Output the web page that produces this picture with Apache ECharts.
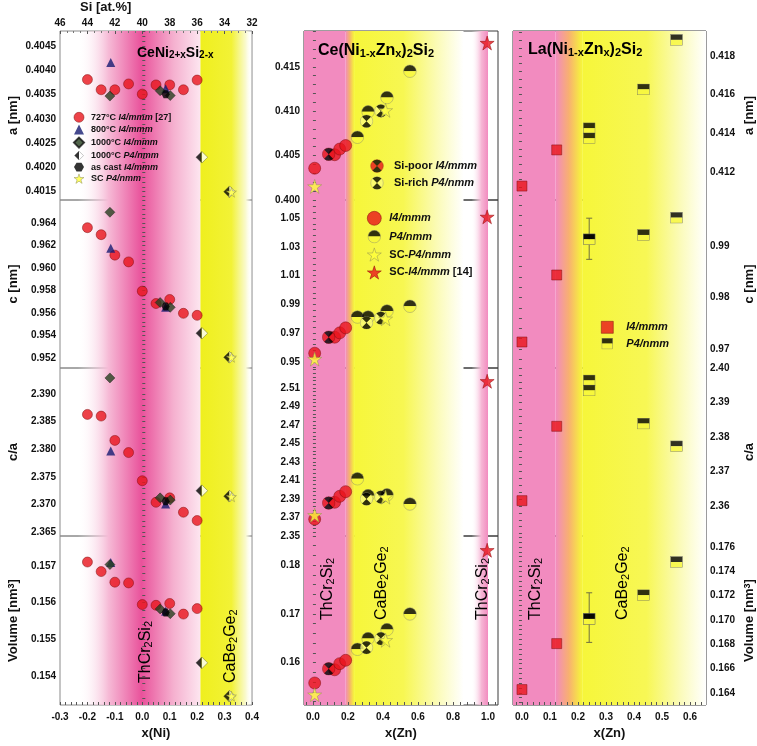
<!DOCTYPE html>
<html>
<head>
<meta charset="utf-8">
<script src="https://cdn.jsdelivr.net/npm/echarts@6/dist/echarts.min.js"></script>
<style>
  html, body { margin: 0; padding: 0; background: #fff; }
  #chart { width: 757px; height: 746px; }
</style>
</head>
<body>
<div id="chart"></div>
<script>
// ---------- CeNi(2+x)Si(2-x) : left column, rows a / c / c/a / V ----------
const ni727X  = [-0.2, -0.15, -0.1, -0.05, 0, 0.05, 0.1, 0.15, 0.2];
const ni727A  = [0.40381, 0.4036, 0.4036, 0.40372, 0.40351, 0.4037, 0.4037, 0.4036, 0.4038];
const ni727C  = [0.96358, 0.96296, 0.96114, 0.96054, 0.95794, 0.95684, 0.9572, 0.95597, 0.95579];
const ni727CA = [2.3863, 2.3860, 2.3816, 2.3794, 2.3743, 2.3704, 2.3712, 2.3686, 2.3671];
const ni727V  = [0.15711, 0.15685, 0.15656, 0.15654, 0.15595, 0.15593, 0.15598, 0.15569, 0.15584];

const ni800X  = [-0.115, 0.085];
const ni800A  = [0.40416, 0.40362];
const ni800C  = [0.96176, 0.9565];
const ni800CA = [2.3797, 2.3701];
const ni800V  = [0.1571, 0.15577];

const ni1000iX  = [-0.118, 0.065, 0.102];
const ni1000iA  = [0.40347, 0.40358, 0.40348];
const ni1000iC  = [0.96495, 0.95693, 0.9565];
const ni1000iCA = [2.3929, 2.3712, 2.3708];
const ni1000iV  = [0.15704, 0.15583, 0.1557];

const niCastX  = [0.085];
const niCastA  = [0.40351];
const niCastC  = [0.95658];
const niCastCA = [2.3706];
const niCastV  = [0.15573];

const ni1000pX  = [0.217, 0.318];
const ni1000pA  = [0.40221, 0.4015];
const ni1000pC  = [0.9542, 0.95206];
const ni1000pCA = [2.3725, 2.3715];
const ni1000pV  = [0.15436, 0.15345];

const niScX  = [0.325];
const niScA  = [0.40149];
const niScC  = [0.95206];
const niScCA = [2.3714];
const niScV  = [0.15345];

// ---------- Ce(Ni1-xZnx)2Si2 : middle column ----------
const ceI4X  = [0.01, 0.124, 0.153, 0.187];
const ceI4A  = [0.40358, 0.4051, 0.40574, 0.40614];
const ceI4C  = [0.95607, 0.9672, 0.9702, 0.9737];
const ceI4CA = [2.3682, 2.3864, 2.3929, 2.3979];
const ceI4V  = [0.15582, 0.15853, 0.15979, 0.16048];

const cePoorX  = [0.09];
const cePoorA  = [0.40516];
const cePoorC  = [0.9672];
const cePoorCA = [2.3857];
const cePoorV  = [0.15874];

const ceP4X  = [0.254, 0.315, 0.423, 0.554];
const ceP4A  = [0.40707, 0.40993, 0.41154, 0.41451];
const ceP4C  = [0.9812, 0.9812, 0.9854, 0.9887];
const ceP4CA = [2.4118, 2.3936, 2.3944, 2.3846];
const ceP4V  = [0.16274, 0.16493, 0.16678, 0.17];

const ceRichX  = [0.306, 0.388];
const ceRichA  = [0.40888, 0.41004];
const ceRichC  = [0.9772, 0.9805];
const ceRichCA = [2.390, 2.392];
const ceRichV  = [0.16308, 0.16493];

const ceScPX  = [0.01, 0.415];
const ceScPA  = [0.40153, 0.4101];
const ceScPC  = [0.952, 0.980];
const ceScPCA = [2.3725, 2.392];
const ceScPV  = [0.15342, 0.1646];

const ceScIX  = [0.995];
const ceScIA  = [0.41769];
const ceScIC  = [1.0508];
const ceScICA = [2.5172];
const ceScIV  = [0.18308];

// ---------- La(Ni1-xZnx)2Si2 : right column ----------
const laI4X  = [0.0, 0.124];
const laI4A  = [0.41127, 0.41314];
const laI4C  = [0.97136, 0.98437];
const laI4CA = [2.36155, 2.3831];
const laI4V  = [0.16427, 0.16805];

const laP4X  = [0.24, 0.24, 0.434, 0.552];
const laP4A  = [0.41426, 0.41374, 0.41627, 0.41883];
const laP4C  = [0.99129, 0.99129, 0.99214, 0.9955];
const laP4CA = [2.3964, 2.3935, 2.3839, 2.3773];
const laP4V  = [0.17008, 0.17008, 0.17203, 0.17476];

const laErrX = 0.24;
const laErrC = [0.98741, 0.9954];
const laErrV = [0.16815, 0.17223];

// ---------- axis ranges and tick labels ----------
const leftYMin = [0.40133, 0.95111, 2.3643, 0.15321];
const leftYMax = [0.40481, 0.96604, 2.3947, 0.15782];
const leftYTicks = [
  [0.4015, 0.4020, 0.4025, 0.4030, 0.4035, 0.4040, 0.4045],
  [0.952, 0.954, 0.956, 0.958, 0.960, 0.962, 0.964],
  [2.365, 2.370, 2.375, 2.380, 2.385, 2.390],
  [0.154, 0.155, 0.156, 0.157]
];
const midYMin = [0.400, 0.9458, 2.35, 0.1513];
const midYMax = [0.41904, 1.0625, 2.5315, 0.186];
const midYTicks = [
  [0.400, 0.405, 0.410, 0.415],
  [0.95, 0.97, 0.99, 1.01, 1.03, 1.05],
  [2.35, 2.37, 2.39, 2.41, 2.43, 2.45, 2.47, 2.49, 2.51],
  [0.16, 0.17, 0.18]
];
const rightYMin = [0.41055, 0.96631, 2.3513, 0.163];
const rightYMax = [0.41929, 0.99893, 2.40, 0.1769];
const rightYTicks = [
  [0.412, 0.414, 0.416, 0.418],
  [0.97, 0.98, 0.99],
  [2.36, 2.37, 2.38, 2.39, 2.40],
  [0.164, 0.166, 0.168, 0.170, 0.172, 0.174, 0.176]
];
const niXTicks = [-0.3, -0.2, -0.1, 0.0, 0.1, 0.2, 0.3, 0.4];
const znXTicks = [0.0, 0.2, 0.4, 0.6, 0.8, 1.0];
const laXTicks = [0.0, 0.1, 0.2, 0.3, 0.4, 0.5, 0.6];

const FONT = '"Liberation Sans", Arial, sans-serif';
const RED = '#e8141c';
const PINK = '#f28bbf';
const YEL = '#f6f63a';

const ROW_TOP = [31, 200, 368, 536];
const ROW_H = [169, 168, 168, 169];
const COLS = [
  { left: 60, width: 192, border: '#8a8a8a' },
  { left: 304, width: 194, border: '#3a3a3a' },
  { left: 513, width: 193, border: '#3a3a3a' }
];

function svgSym(svg) {
  return 'image://data:image/svg+xml;charset=utf-8,' + encodeURIComponent(svg);
}
const SVG_HEAD = "<svg xmlns='http://www.w3.org/2000/svg' width='40' height='40' viewBox='0 0 20 20'>";
const HALF_CIRCLE = svgSym(SVG_HEAD +
  "<path d='M1,10 A9,9 0 0 1 19,10 Z' fill='#000'/><path d='M1,10 A9,9 0 0 0 19,10 Z' fill='#f8f83c'/>" +
  "<circle cx='10' cy='10' r='9' fill='none' stroke='#777' stroke-width='0.7'/></svg>");
function hourglass(fill, stroke) {
  return svgSym(SVG_HEAD + "<circle cx='10' cy='10' r='9' fill='" + fill + "' stroke='" + stroke + "' stroke-width='0.7'/>" +
    "<path d='M10,10 L3.64,3.64 A9,9 0 0 1 16.36,3.64 Z M10,10 L16.36,16.36 A9,9 0 0 1 3.64,16.36 Z' fill='#000'/></svg>");
}
const SI_POOR = hourglass(RED, '#7a0a0a');
const SI_RICH = hourglass('#fbfb7a', '#888');
const HALF_SQUARE = svgSym(SVG_HEAD +
  "<rect x='1' y='1' width='18' height='9' fill='#000'/><rect x='1' y='10' width='18' height='9' fill='#f8f83c'/>" +
  "<rect x='1' y='1' width='18' height='18' fill='none' stroke='#666' stroke-width='0.8'/></svg>");
const HALF_DIAMOND = svgSym(SVG_HEAD +
  "<path d='M10,1 L1,10 L10,19 Z' fill='#000'/><path d='M10,1 L19,10 L10,19 Z' fill='#fff'/>" +
  "<path d='M10,1 L19,10 L10,19 L1,10 Z' fill='none' stroke='#333' stroke-width='0.7'/></svg>");
const STAR = 'path://M10,0 L12.36,7.26 L20,7.26 L13.82,11.74 L16.18,19 L10,14.5 L3.82,19 L6.18,11.74 L0,7.26 L7.64,7.26 Z';
const HEXAGON = 'path://M5,0 L15,0 L20,8.66 L15,17.32 L5,17.32 L0,8.66 Z';

function ticksOf(labels, sub, min, max) {
  const step = (labels[1] - labels[0]) / sub;
  let v = labels[0] - Math.floor((labels[0] - min) / step + 1e-9) * step;
  const out = [];
  for (; v <= max + 1e-12; v += step) out.push(+v.toFixed(8));
  return out;
}

const grids = [], xAxes = [], yAxes = [];
const yRanges = [[leftYMin, leftYMax, leftYTicks, [4, 3, 3, 3]],
                 [midYMin, midYMax, midYTicks, [3, 2, 2, 2]],
                 [rightYMin, rightYMax, rightYTicks, [3, 2, 2, 3]]];
const xRanges = [[-0.3, 0.4, niXTicks, 'x(Ni)'], [-0.051, 1.057, znXTicks, 'x(Zn)'], [-0.032, 0.657, laXTicks, 'x(Zn)']];
const yNames = ['a [nm]', 'c [nm]', 'c/a', 'Volume [nm{sup|3}]'];
const nameRich = {
  sup: { fontFamily: FONT, fontWeight: 'bold', fontSize: 9, lineHeight: 8, verticalAlign: 'top', color: '#000' }
};

COLS.forEach((col, c) => {
  for (let r = 0; r < 4; r++) {
    const idx = c * 4 + r;
    grids.push({ left: col.left, width: col.width, top: ROW_TOP[r], height: ROW_H[r],
      show: true, borderColor: col.border, borderWidth: 1, backgroundColor: 'transparent', z: 1 });
    const [xmin, xmax, xt, xname] = xRanges[c];
    const bottom = r === 3;
    xAxes.push({
      type: 'value', gridIndex: idx, min: xmin, max: xmax, position: 'bottom', z: 2,
      axisLine: { show: false }, splitLine: { show: false },
      axisTick: { show: bottom, inside: true, length: 3, lineStyle: { color: '#555' },
        customValues: ticksOf(xt, 5, xmin, xmax) },
      axisLabel: { show: bottom, customValues: xt, margin: 7, fontFamily: FONT, fontWeight: 'bold',
        fontSize: 10, color: '#111', formatter: v => v.toFixed(1) },
      name: bottom ? xname : '', nameLocation: 'middle', nameGap: 22,
      nameTextStyle: { fontFamily: FONT, fontWeight: 'bold', fontSize: 13, color: '#111' }
    });
    const [ymins, ymaxs, yts, decs] = yRanges[c];
    yAxes.push({
      type: 'value', gridIndex: idx, min: ymins[r], max: ymaxs[r], z: 2,
      position: c === 2 ? 'right' : 'left',
      axisLine: { show: false }, splitLine: { show: false },
      axisTick: { show: true, inside: true, length: 3, lineStyle: { color: '#555' },
        customValues: ticksOf(yts[r], 5, ymins[r], ymaxs[r]) },
      axisLabel: { customValues: yts[r], margin: 4, fontFamily: FONT, fontWeight: 'bold', fontSize: 10,
        color: '#111', formatter: v => v.toFixed(decs[r]) },
      name: c === 1 ? '' : yNames[r], nameLocation: 'middle', nameGap: c === 2 ? 37 : 40,
      nameRotate: 90,
      nameTextStyle: { fontFamily: FONT, fontWeight: 'bold', fontSize: 13, color: '#111', rich: nameRich }
    });
  }
});
// Si [at.%] scale on top of the first panel
xAxes.push({
  type: 'value', gridIndex: 0, position: 'top', inverse: true, min: 32, max: 46, interval: 2, z: 2,
  axisLine: { show: false }, splitLine: { show: false },
  axisTick: { show: true, inside: true, length: 3, lineStyle: { color: '#555' } },
  minorTick: { show: true, splitNumber: 4, length: 2, lineStyle: { color: '#777' } },
  axisLabel: { margin: 3, fontFamily: FONT, fontWeight: 'bold', fontSize: 10, color: '#111' }
});

// ---------- backgrounds ----------
function band(x0, x1, stops) {
  return [{ xAxis: x0, itemStyle: { color: new echarts.graphic.LinearGradient(0, 0, 1, 0,
    stops.map(s => ({ offset: s[0], color: s[1] }))) } }, { xAxis: x1 }];
}
const bands = [
  [band(-0.235, 0.212, [[0, 'rgba(255,255,255,0)'], [0.25, '#f6bad6'], [0.52, '#e9529b'], [0.78, '#f5b0cf'], [1, '#fde6f0']]),
   band(0.212, 0.4, [[0, '#efef1e'], [0.6, '#f2f236'], [0.88, '#fafad0'], [1, 'rgba(255,255,255,0)']])],
  [band(-0.06, 0.185, [[0, PINK], [1, PINK]]),
   band(0.185, 0.235, [[0, PINK], [0.5, '#f5b46a'], [1, YEL]]),
   band(0.235, 0.86, [[0, YEL], [0.45, '#f7f752'], [0.75, '#fbfbb4'], [1, '#ffffff']]),
   band(0.905, 1.0, [[0, 'rgba(255,255,255,0)'], [0.6, '#f6b6d5'], [1, PINK]])],
  [band(-0.04, 0.12, [[0, PINK], [1, PINK]]),
   band(0.12, 0.215, [[0, PINK], [0.5, '#f8b070'], [1, YEL]]),
   band(0.215, 0.66, [[0, YEL], [0.52, '#f7f755'], [0.8, '#fbfbbc'], [1, '#ffffff']])]
];

const series = [];
bands.forEach((b, c) => {
  for (let r = 0; r < 4; r++) {
    series.push({ type: 'line', data: [], xAxisIndex: c * 4 + r, yAxisIndex: c * 4 + r, z: 0, silent: true,
      markArea: { silent: true, label: { show: false }, data: b } });
  }
});

function addSet(name, col, xs, rows, symbol, size, itemStyle, z) {
  rows.forEach((ys, r) => {
    series.push({
      type: 'scatter', name, xAxisIndex: col * 4 + r, yAxisIndex: col * 4 + r, z: z || 3, silent: true,
      symbol, symbolSize: size, itemStyle,
      data: xs.map((x, i) => [x, ys[i]]).filter(d => d[1] != null)
    });
  });
}
const redStyle = { color: RED, borderColor: '#7a0a0a', borderWidth: 0.6 };
const starY = { color: '#ffff3c', borderColor: '#8c8c55', borderWidth: 0.6 };
const starR = { color: RED, borderColor: '#800', borderWidth: 0.6 };

addSet('n727', 0, ni727X, [ni727A, ni727C, ni727CA, ni727V], 'circle', 10, redStyle);
addSet('n800', 0, ni800X, [ni800A, ni800C, ni800CA, ni800V], 'triangle', 9, { color: '#161c72' });
addSet('n1000i', 0, ni1000iX, [ni1000iA, ni1000iC, ni1000iCA, ni1000iV], 'diamond', 10,
  { color: '#27401f', borderColor: '#111', borderWidth: 0.5 }, 4);
addSet('cast', 0, niCastX, [niCastA, niCastC, niCastCA, niCastV], HEXAGON, 8, { color: '#000' }, 5);
addSet('n1000p', 0, ni1000pX, [ni1000pA, ni1000pC, ni1000pCA, ni1000pV], HALF_DIAMOND, 13, {}, 5);
addSet('scL', 0, niScX, [niScA, niScC, niScCA, niScV], STAR, 10, starY, 6);

addSet('ceI4', 1, ceI4X, [ceI4A, ceI4C, ceI4CA, ceI4V], 'circle', 12, redStyle);
addSet('siPoor', 1, cePoorX, [cePoorA, cePoorC, cePoorCA, cePoorV], SI_POOR, 14, {}, 4);
addSet('ceP4', 1, ceP4X, [ceP4A, ceP4C, ceP4CA, ceP4V], HALF_CIRCLE, 14, {}, 3);
addSet('siRich', 1, ceRichX, [ceRichA, ceRichC, ceRichCA, ceRichV], SI_RICH, 14, {}, 4);
addSet('scP', 1, ceScPX, [ceScPA, ceScPC, ceScPCA, ceScPV], STAR, 14, starY, 5);
addSet('scI', 1, ceScIX, [ceScIA, ceScIC, ceScICA, ceScIV], STAR, 14, starR, 5);

// error bars (La, x = 0.24)
[[1, laErrC], [3, laErrV]].forEach(([r, e]) => {
  series.push({ type: 'line', xAxisIndex: 8 + r, yAxisIndex: 8 + r, z: 3, silent: true,
    data: [[laErrX, e[0]], [laErrX, e[1]]], symbol: 'rect', symbolSize: [6, 1],
    lineStyle: { color: '#707040', width: 1 }, itemStyle: { color: '#707040' } });
});
addSet('laI4', 2, laI4X, [laI4A, laI4C, laI4CA, laI4V], 'rect', 10, redStyle, 4);
addSet('laP4', 2, laP4X, [laP4A, laP4C, laP4CA, laP4V], HALF_SQUARE, [13, 12], {}, 4);

// ---------- legends ----------
function rich(size) {
  return {
    b: { fontFamily: FONT, fontWeight: 'bold', fontSize: size, color: '#111' },
    i: { fontFamily: FONT, fontWeight: 'bold', fontStyle: 'italic', fontSize: size, color: '#111' }
  };
}
const LEG_TEXT = {
  n727: '{b|727°C }{i|I4/mmm}{b| [27]}', n800: '{b|800°C }{i|I4/mmm}', n1000i: '{b|1000°C }{i|I4/mmm}',
  n1000p: '{b|1000°C }{i|P4/nmm}', cast: '{b|as cast }{i|I4/mmm}', scL: '{b|SC }{i|P4/nmm}',
  siPoor: '{b|Si-poor }{i|I4/mmm}', siRich: '{b|Si-rich }{i|P4/nmm}',
  ceI4: '{i|I4/mmm}', ceP4: '{i|P4/nmm}', scP: '{b|SC-}{i|P4/nmm}', scI: '{b|SC-}{i|I4/mmm}{b| [14]}',
  laI4: '{i|I4/mmm}', laP4: '{i|P4/nmm}'
};
function legend(left, top, size, gap, font, items, pad) {
  return {
    left, top, orient: 'vertical', itemWidth: size, itemHeight: size, itemGap: gap, selectedMode: false,
    formatter: n => LEG_TEXT[n], textStyle: { rich: rich(font), padding: [0, 0, 0, pad] },
    data: items.map(([name, icon, st]) => ({ name, icon, itemStyle: st || {} }))
  };
}
const legends = [
  legend(68, 107, 10, 2, 9, [['n727', 'circle', redStyle], ['n800', 'triangle', { color: '#161c72' }],
    ['n1000i', 'diamond', { color: '#27401f' }], ['n1000p', HALF_DIAMOND], ['cast', HEXAGON, { color: '#000' }],
    ['scL', STAR, starY]], 2),
  legend(365, 154, 14, 3, 11, [['siPoor', SI_POOR], ['siRich', SI_RICH]], 5),
  legend(362, 206, 14, 4, 11, [['ceI4', 'circle', redStyle], ['ceP4', HALF_CIRCLE], ['scP', STAR, starY],
    ['scI', STAR, starR]], 3),
  legend(596, 316, 12, 4, 11, [['laI4', 'rect', redStyle], ['laP4', HALF_SQUARE]], 8)
];

// ---------- text labels ----------
function chemRich(main, sub, weight) {
  return {
    m: { fontFamily: FONT, fontWeight: weight, fontSize: main, lineHeight: main + 6, verticalAlign: 'bottom', color: '#111' },
    s: { fontFamily: FONT, fontWeight: weight, fontSize: sub, lineHeight: sub - 2, verticalAlign: 'bottom', color: '#111' }
  };
}
function label(x, y, text, main, sub, weight, rot) {
  return { type: 'text', x, y, rotation: rot ? Math.PI / 2 : 0, z: 10, silent: true,
    style: { text, rich: chemRich(main, sub, weight), align: 'left', verticalAlign: 'middle' } };
}
const TH = '{m|ThCr}{s|2}{m|Si}{s|2}';
const CA = '{m|CaBe}{s|2}{m|Ge}{s|2}';
const graphic = [
  { type: 'text', left: 80, top: 1, z: 10, silent: true,
    style: { text: 'Si [at.%]', fontFamily: FONT, fontWeight: 'bold', fontSize: 13, fill: '#111' } },
  label(137, 50, '{m|CeNi}{s|2+x}{m|Si}{s|2-x}', 14, 10, 'bold'),
  label(318, 48, '{m|Ce(Ni}{s|1-x}{m|Zn}{s|x}{m|)}{s|2}{m|Si}{s|2}', 16, 11, 'bold'),
  label(528, 47, '{m|La(Ni}{s|1-x}{m|Zn}{s|x}{m|)}{s|2}{m|Si}{s|2}', 16, 11, 'bold'),
  label(143, 683, TH, 16, 11, 'normal', true),
  label(228, 683, CA, 16, 11, 'normal', true),
  label(325, 620, TH, 16, 11, 'normal', true),
  label(379, 620, CA, 16, 11, 'normal', true),
  label(480, 620, TH, 16, 11, 'normal', true),
  label(533, 620, TH, 16, 11, 'normal', true),
  label(620, 620, CA, 16, 11, 'normal', true)
];

const chart = echarts.init(document.getElementById('chart'), null, { renderer: 'canvas' });
chart.setOption({
  animation: false,
  backgroundColor: '#fff',
  grid: grids, xAxis: xAxes, yAxis: yAxes,
  legend: legends, graphic, series
});
</script>
</body>
</html>
